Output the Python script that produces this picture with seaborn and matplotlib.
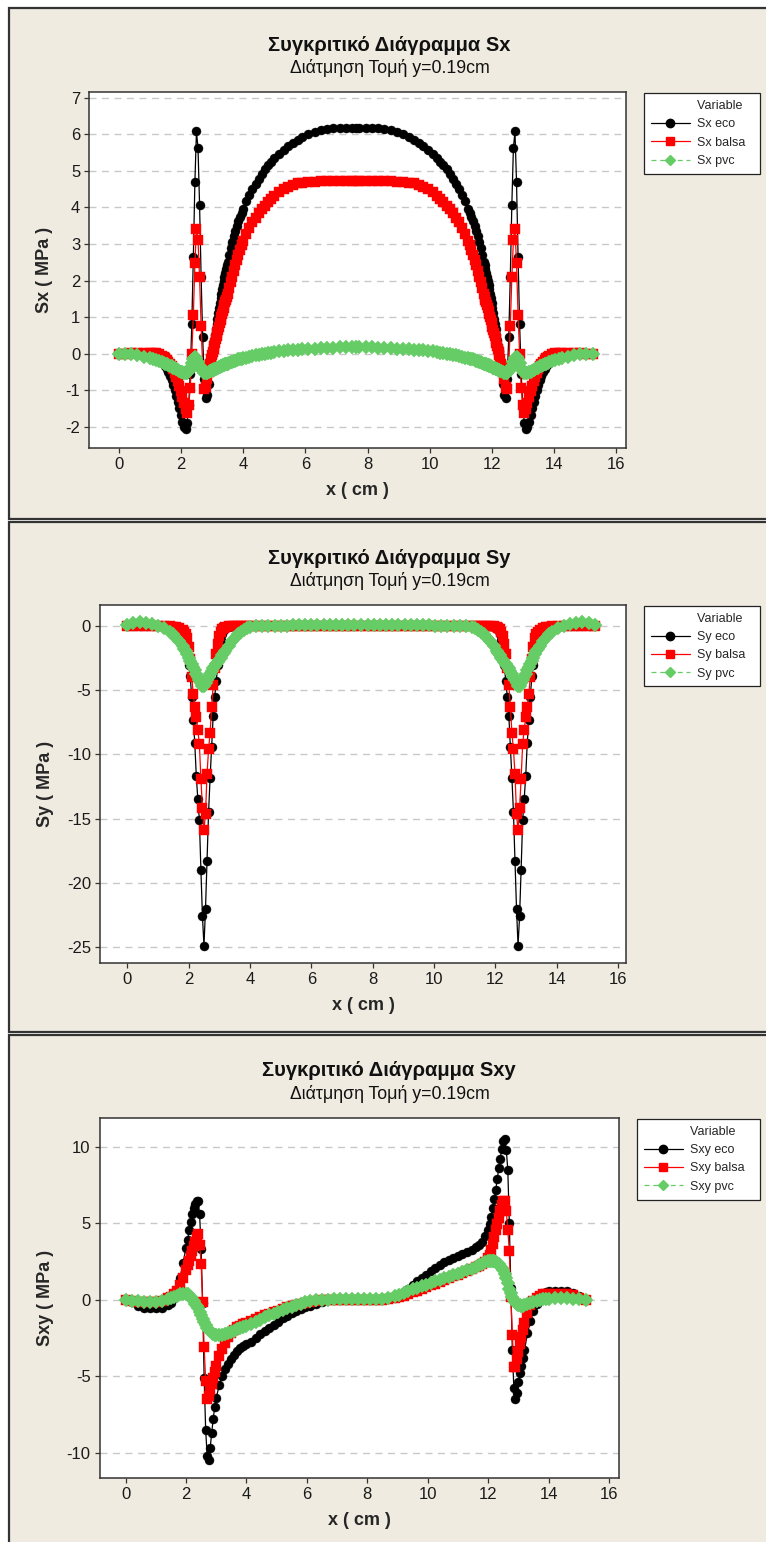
import matplotlib
matplotlib.use("Agg")
import matplotlib.pyplot as plt
from matplotlib.lines import Line2D
from matplotlib.patches import Rectangle
import seaborn as sns

sns.set_theme(style="white")
plt.rcParams["font.family"] = ["Liberation Sans", "DejaVu Sans"]
plt.rcParams["axes.unicode_minus"] = False

# ---------------- Sx along the section y = 0.19 cm ----------------
sx_x = [
    0.0, 0.2, 0.4, 0.6, 0.8, 1.0, 1.1, 1.2, 1.3, 1.4,
    1.45, 1.5, 1.55, 1.6, 1.65, 1.7, 1.75, 1.8, 1.85, 1.9,
    1.95, 2.0, 2.05, 2.1, 2.15, 2.2, 2.25, 2.3, 2.35, 2.4,
    2.45, 2.5, 2.55, 2.6, 2.65, 2.7, 2.75, 2.8, 2.85, 2.9,
    2.95, 2.975, 3.0, 3.025, 3.05, 3.075, 3.1, 3.125, 3.15, 3.175,
    3.2, 3.225, 3.25, 3.275, 3.3, 3.325, 3.35, 3.375, 3.4, 3.425,
    3.45, 3.475, 3.5, 3.55, 3.6, 3.65, 3.7, 3.75, 3.8, 3.85,
    3.9, 3.95, 4.0, 4.1, 4.2, 4.3, 4.4, 4.5, 4.6, 4.7,
    4.8, 4.9, 5.0, 5.15, 5.3, 5.45, 5.6, 5.75, 5.9, 6.1,
    6.3, 6.5, 6.7, 6.9, 7.1, 7.3, 7.5,
    7.62,
    7.74, 7.94, 8.14, 8.34, 8.54, 8.74, 8.94,
    9.14, 9.34, 9.49, 9.64, 9.79, 9.94, 10.09, 10.24, 10.34, 10.44,
    10.54, 10.64, 10.74, 10.84, 10.94, 11.04, 11.14, 11.24, 11.29, 11.34,
    11.39, 11.44, 11.49, 11.54, 11.59, 11.64, 11.69, 11.74, 11.765, 11.79,
    11.815, 11.84, 11.865, 11.89, 11.915, 11.94, 11.965, 11.99, 12.015, 12.04,
    12.065, 12.09, 12.115, 12.14, 12.165, 12.19, 12.215, 12.24, 12.265, 12.29,
    12.34, 12.39, 12.44, 12.49, 12.54, 12.59, 12.64, 12.69, 12.74, 12.79,
    12.84, 12.89, 12.94, 12.99, 13.04, 13.09, 13.14, 13.19, 13.24, 13.29,
    13.34, 13.39, 13.44, 13.49, 13.54, 13.59, 13.64, 13.69, 13.74, 13.79,
    13.84, 13.94, 14.04, 14.14, 14.24, 14.44, 14.64, 14.84, 15.04, 15.24,
]
sx_eco = [
    0.00, 0.00, 0.00, 0.00, -0.01, -0.03, -0.05, -0.09, -0.14, -0.22,
    -0.28, -0.34, -0.42, -0.50, -0.60, -0.72, -0.85, -1.00, -1.16, -1.33,
    -1.50, -1.68, -1.86, -2.00, -2.06, -1.90, -1.40, -0.55, 0.80, 2.65,
    4.70, 6.08, 5.62, 4.08, 2.10, 0.45, -0.70, -1.22, -1.12, -0.82,
    -0.45, -0.26, -0.08, 0.07, 0.22, 0.37, 0.52, 0.67, 0.82, 0.96,
    1.10, 1.24, 1.38, 1.51, 1.64, 1.76, 1.88, 1.99, 2.10, 2.21,
    2.32, 2.42, 2.52, 2.71, 2.90, 3.06, 3.22, 3.36, 3.50, 3.63,
    3.75, 3.86, 3.97, 4.17, 4.35, 4.51, 4.65, 4.79, 4.92, 5.04,
    5.15, 5.25, 5.34, 5.47, 5.58, 5.68, 5.77, 5.85, 5.92, 6.00,
    6.07, 6.12, 6.15, 6.16, 6.17, 6.17, 6.17,
    6.17,
    6.17, 6.17, 6.17, 6.16, 6.15, 6.12, 6.07,
    6.00, 5.92, 5.85, 5.77, 5.68, 5.58, 5.47, 5.34, 5.25, 5.15,
    5.04, 4.92, 4.79, 4.65, 4.51, 4.35, 4.17, 3.97, 3.86, 3.75,
    3.63, 3.50, 3.36, 3.22, 3.06, 2.90, 2.71, 2.52, 2.42, 2.32,
    2.21, 2.10, 1.99, 1.88, 1.76, 1.64, 1.51, 1.38, 1.24, 1.10,
    0.96, 0.82, 0.67, 0.52, 0.37, 0.22, 0.07, -0.08, -0.26, -0.45,
    -0.82, -1.12, -1.22, -0.70, 0.45, 2.10, 4.08, 5.62, 6.08, 4.70,
    2.65, 0.80, -0.55, -1.40, -1.90, -2.06, -2.00, -1.86, -1.68, -1.50,
    -1.33, -1.16, -1.00, -0.85, -0.72, -0.60, -0.50, -0.42, -0.34, -0.28,
    -0.22, -0.14, -0.09, -0.05, -0.03, -0.01, 0.00, 0.00, 0.00, 0.00,
]
sx_balsa = [
    0.00, 0.00, 0.01, 0.02, 0.03, 0.03, 0.02, 0.01, -0.02, -0.06,
    -0.09, -0.12, -0.17, -0.22, -0.28, -0.35, -0.43, -0.52, -0.63, -0.75,
    -0.88, -1.02, -1.18, -1.36, -1.52, -1.62, -1.40, -0.95, 0.00, 1.05,
    2.48, 3.42, 3.10, 2.10, 0.75, -0.35, -0.98, -0.90, -0.70, -0.50,
    -0.28, -0.16, -0.05, 0.04, 0.12, 0.21, 0.30, 0.39, 0.48, 0.57,
    0.65, 0.74, 0.83, 0.92, 1.00, 1.08, 1.16, 1.24, 1.32, 1.40,
    1.47, 1.55, 1.62, 1.79, 1.95, 2.11, 2.27, 2.42, 2.57, 2.71,
    2.84, 2.96, 3.07, 3.27, 3.44, 3.59, 3.72, 3.84, 3.95, 4.05,
    4.14, 4.23, 4.31, 4.41, 4.50, 4.57, 4.62, 4.66, 4.68, 4.70,
    4.70, 4.71, 4.71, 4.71, 4.71, 4.71, 4.71,
    4.71,
    4.71, 4.71, 4.71, 4.71, 4.71, 4.71, 4.70,
    4.70, 4.68, 4.66, 4.62, 4.57, 4.50, 4.41, 4.31, 4.23, 4.14,
    4.05, 3.95, 3.84, 3.72, 3.59, 3.44, 3.27, 3.07, 2.96, 2.84,
    2.71, 2.57, 2.42, 2.27, 2.11, 1.95, 1.79, 1.62, 1.55, 1.47,
    1.40, 1.32, 1.24, 1.16, 1.08, 1.00, 0.92, 0.83, 0.74, 0.65,
    0.57, 0.48, 0.39, 0.30, 0.21, 0.12, 0.04, -0.05, -0.16, -0.28,
    -0.50, -0.70, -0.90, -0.98, -0.35, 0.75, 2.10, 3.10, 3.42, 2.48,
    1.05, 0.00, -0.95, -1.40, -1.62, -1.52, -1.36, -1.18, -1.02, -0.88,
    -0.75, -0.63, -0.52, -0.43, -0.35, -0.28, -0.22, -0.17, -0.12, -0.09,
    -0.06, -0.02, 0.01, 0.02, 0.03, 0.03, 0.02, 0.01, 0.00, 0.00,
]
sx_pvc = [
    0.00, 0.00, -0.02, -0.05, -0.08, -0.12, -0.14, -0.17, -0.20, -0.23,
    -0.25, -0.27, -0.29, -0.31, -0.33, -0.35, -0.38, -0.40, -0.43, -0.45,
    -0.47, -0.49, -0.51, -0.53, -0.54, -0.53, -0.48, -0.38, -0.26, -0.15,
    -0.09, -0.12, -0.22, -0.33, -0.42, -0.48, -0.52, -0.53, -0.52, -0.50,
    -0.48, -0.47, -0.46, -0.45, -0.44, -0.43, -0.42, -0.41, -0.40, -0.39,
    -0.38, -0.37, -0.36, -0.35, -0.34, -0.33, -0.32, -0.31, -0.30, -0.29,
    -0.28, -0.28, -0.27, -0.25, -0.24, -0.22, -0.21, -0.19, -0.18, -0.16,
    -0.15, -0.14, -0.13, -0.11, -0.09, -0.07, -0.05, -0.03, -0.01, 0.00,
    0.02, 0.03, 0.05, 0.07, 0.08, 0.09, 0.10, 0.11, 0.12, 0.13,
    0.14, 0.15, 0.16, 0.16, 0.17, 0.17, 0.17,
    0.17,
    0.17, 0.17, 0.17, 0.16, 0.16, 0.15, 0.14,
    0.13, 0.12, 0.11, 0.10, 0.09, 0.08, 0.07, 0.05, 0.03, 0.02,
    0.00, -0.01, -0.03, -0.05, -0.07, -0.09, -0.11, -0.13, -0.14, -0.15,
    -0.16, -0.18, -0.19, -0.21, -0.22, -0.24, -0.25, -0.27, -0.28, -0.28,
    -0.29, -0.30, -0.31, -0.32, -0.33, -0.34, -0.35, -0.36, -0.37, -0.38,
    -0.39, -0.40, -0.41, -0.42, -0.43, -0.44, -0.45, -0.46, -0.47, -0.48,
    -0.50, -0.52, -0.53, -0.52, -0.48, -0.42, -0.33, -0.22, -0.12, -0.09,
    -0.15, -0.26, -0.38, -0.48, -0.53, -0.54, -0.53, -0.51, -0.49, -0.47,
    -0.45, -0.43, -0.40, -0.38, -0.35, -0.33, -0.31, -0.29, -0.27, -0.25,
    -0.23, -0.20, -0.17, -0.14, -0.12, -0.08, -0.05, -0.02, 0.00, 0.00,
]

# ---------------- Sy along the section y = 0.19 cm ----------------
sy_x = [
    0.0, 0.2, 0.4, 0.6, 0.8, 1.0, 1.2, 1.4, 1.5, 1.6,
    1.7, 1.8, 1.85, 1.9, 1.95, 2.0, 2.05, 2.1, 2.15, 2.2,
    2.25, 2.3, 2.35, 2.4, 2.45, 2.5, 2.55, 2.6, 2.65, 2.7,
    2.75, 2.8, 2.85, 2.9, 2.95, 3.0, 3.05, 3.1, 3.15, 3.2,
    3.3, 3.4, 3.5, 3.6, 3.7, 3.8, 3.9, 4.0, 4.2, 4.4,
    4.6, 4.8, 5.0, 5.2, 5.4, 5.6, 5.8, 6.0, 6.2, 6.4,
    6.6, 6.8, 7.0, 7.2, 7.4,
    7.62,
    7.84, 8.04, 8.24, 8.44, 8.64,
    8.84, 9.04, 9.24, 9.44, 9.64, 9.84, 10.04, 10.24, 10.44, 10.64,
    10.84, 11.04, 11.24, 11.34, 11.44, 11.54, 11.64, 11.74, 11.84, 11.94,
    12.04, 12.09, 12.14, 12.19, 12.24, 12.29, 12.34, 12.39, 12.44, 12.49,
    12.54, 12.59, 12.64, 12.69, 12.74, 12.79, 12.84, 12.89, 12.94, 12.99,
    13.04, 13.09, 13.14, 13.19, 13.24, 13.29, 13.34, 13.39, 13.44, 13.54,
    13.64, 13.74, 13.84, 14.04, 14.24, 14.44, 14.64, 14.84, 15.04, 15.24,
]
sy_eco = [
    0.00, 0.00, 0.00, 0.00, 0.00, 0.00, 0.00, -0.01, -0.02, -0.05,
    -0.15, -0.35, -0.60, -1.00, -1.80, -3.00, -3.90, -5.50, -7.30, -9.10,
    -11.70, -13.50, -15.10, -19.00, -22.60, -24.90, -22.00, -18.30, -14.50, -11.80,
    -9.40, -7.00, -5.50, -4.30, -3.00, -1.90, -1.10, -0.60, -0.30, -0.15,
    -0.05, -0.02, 0.00, 0.00, 0.00, 0.00, 0.00, 0.00, 0.00, 0.00,
    0.00, 0.00, 0.00, 0.00, 0.00, 0.00, 0.00, 0.00, 0.00, 0.00,
    0.00, 0.00, 0.00, 0.00, 0.00,
    0.00,
    0.00, 0.00, 0.00, 0.00, 0.00,
    0.00, 0.00, 0.00, 0.00, 0.00, 0.00, 0.00, 0.00, 0.00, 0.00,
    0.00, 0.00, 0.00, 0.00, 0.00, 0.00, 0.00, 0.00, -0.02, -0.05,
    -0.15, -0.30, -0.60, -1.10, -1.90, -3.00, -4.30, -5.50, -7.00, -9.40,
    -11.80, -14.50, -18.30, -22.00, -24.90, -22.60, -19.00, -15.10, -13.50, -11.70,
    -9.10, -7.30, -5.50, -3.90, -3.00, -1.80, -1.00, -0.60, -0.35, -0.15,
    -0.05, -0.02, -0.01, 0.00, 0.00, 0.00, 0.00, 0.00, 0.00, 0.00,
]
sy_balsa = [
    0.00, 0.00, 0.00, 0.00, 0.00, 0.00, 0.00, -0.02, -0.04, -0.08,
    -0.15, -0.30, -0.45, -0.65, -0.90, -1.60, -2.60, -4.00, -5.30, -6.30,
    -7.10, -8.10, -9.20, -11.90, -14.20, -15.90, -14.60, -11.50, -9.60, -8.30,
    -6.30, -4.60, -3.30, -2.20, -1.40, -0.80, -0.45, -0.25, -0.12, -0.06,
    -0.02, 0.00, 0.00, 0.00, 0.00, 0.00, 0.00, 0.00, 0.00, 0.00,
    0.00, 0.00, 0.00, 0.00, 0.00, 0.00, 0.00, 0.00, 0.00, 0.00,
    0.00, 0.00, 0.00, 0.00, 0.00,
    0.00,
    0.00, 0.00, 0.00, 0.00, 0.00,
    0.00, 0.00, 0.00, 0.00, 0.00, 0.00, 0.00, 0.00, 0.00, 0.00,
    0.00, 0.00, 0.00, 0.00, 0.00, 0.00, 0.00, 0.00, 0.00, -0.02,
    -0.06, -0.12, -0.25, -0.45, -0.80, -1.40, -2.20, -3.30, -4.60, -6.30,
    -8.30, -9.60, -11.50, -14.60, -15.90, -14.20, -11.90, -9.20, -8.10, -7.10,
    -6.30, -5.30, -4.00, -2.60, -1.60, -0.90, -0.65, -0.45, -0.30, -0.15,
    -0.08, -0.04, -0.02, 0.00, 0.00, 0.00, 0.00, 0.00, 0.00, 0.00,
]
sy_pvc = [
    0.05, 0.20, 0.28, 0.25, 0.15, 0.02, -0.15, -0.45, -0.65, -0.90,
    -1.20, -1.55, -1.75, -1.95, -2.20, -2.45, -2.70, -2.95, -3.20, -3.45,
    -3.70, -3.95, -4.20, -4.45, -4.70, -4.65, -4.45, -4.20, -3.95, -3.70,
    -3.50, -3.30, -3.10, -2.95, -2.80, -2.62, -2.45, -2.28, -2.10, -1.92,
    -1.55, -1.20, -0.90, -0.65, -0.45, -0.28, -0.15, -0.06, 0.00, 0.02,
    0.03, 0.03, 0.04, 0.04, 0.05, 0.05, 0.05, 0.05, 0.05, 0.05,
    0.05, 0.05, 0.05, 0.05, 0.05,
    0.05,
    0.05, 0.05, 0.05, 0.05, 0.05,
    0.05, 0.05, 0.05, 0.05, 0.05, 0.05, 0.04, 0.04, 0.03, 0.03,
    0.02, 0.00, -0.06, -0.15, -0.28, -0.45, -0.65, -0.90, -1.20, -1.55,
    -1.92, -2.10, -2.28, -2.45, -2.62, -2.80, -2.95, -3.10, -3.30, -3.50,
    -3.70, -3.95, -4.20, -4.45, -4.65, -4.70, -4.45, -4.20, -3.95, -3.70,
    -3.45, -3.20, -2.95, -2.70, -2.45, -2.20, -1.95, -1.75, -1.55, -1.20,
    -0.90, -0.65, -0.45, -0.15, 0.02, 0.15, 0.25, 0.28, 0.20, 0.05,
]

# ---------------- Sxy along the section y = 0.19 cm ----------------
sxy_x = [
    0.0, 0.2, 0.4, 0.6, 0.8, 1.0, 1.2, 1.4, 1.5, 1.6,
    1.7, 1.8, 1.9, 2.0, 2.05, 2.1, 2.15, 2.2, 2.25, 2.3,
    2.35, 2.4, 2.45, 2.5, 2.55, 2.6, 2.65, 2.7, 2.75, 2.8,
    2.85, 2.9, 2.95, 3.0, 3.1, 3.2, 3.3, 3.4, 3.5, 3.6,
    3.7, 3.8, 3.9, 4.0, 4.15, 4.3, 4.45, 4.6, 4.75, 4.9,
    5.05, 5.2, 5.35, 5.5, 5.65, 5.8, 5.95, 6.1, 6.3, 6.5,
    6.7, 6.9, 7.1, 7.3, 7.5, 7.7, 7.9, 8.1, 8.3, 8.5,
    8.7, 8.9, 9.05, 9.2, 9.35, 9.5, 9.65, 9.8, 9.95, 10.1,
    10.25, 10.4, 10.55, 10.7, 10.85, 11.0, 11.15, 11.3, 11.45, 11.6,
    11.7, 11.8, 11.9, 12.0, 12.05, 12.1, 12.15, 12.2, 12.25, 12.3,
    12.35, 12.4, 12.45, 12.5, 12.55, 12.6, 12.65, 12.7, 12.75, 12.8,
    12.85, 12.9, 12.95, 13.0, 13.05, 13.1, 13.15, 13.2, 13.3, 13.4,
    13.5, 13.6, 13.7, 13.8, 13.9, 14.0, 14.2, 14.4, 14.6, 14.8,
    15.0, 15.24,
]
sxy_eco = [
    0.00, -0.15, -0.40, -0.55, -0.55, -0.55, -0.52, -0.35, -0.20, 0.10,
    0.50, 1.40, 2.40, 3.40, 3.90, 4.55, 5.10, 5.60, 6.00, 6.30,
    6.45, 6.50, 5.60, 3.30, -0.20, -5.10, -8.50, -10.20, -10.50, -9.70,
    -8.70, -7.80, -7.00, -6.40, -5.60, -5.00, -4.55, -4.20, -3.90, -3.60,
    -3.35, -3.15, -3.00, -2.90, -2.75, -2.50, -2.25, -2.05, -1.85, -1.62,
    -1.42, -1.22, -1.05, -0.88, -0.72, -0.60, -0.50, -0.40, -0.25, -0.12,
    -0.04, 0.00, 0.00, 0.00, 0.00, 0.00, 0.00, 0.00, 0.00, 0.02,
    0.06, 0.15, 0.30, 0.50, 0.72, 0.97, 1.20, 1.42, 1.65, 1.87,
    2.07, 2.27, 2.45, 2.60, 2.75, 2.88, 3.00, 3.12, 3.25, 3.45,
    3.60, 3.80, 4.15, 4.60, 4.95, 5.40, 6.00, 6.60, 7.20, 7.90,
    8.60, 9.20, 9.90, 10.40, 10.50, 9.80, 8.50, 5.00, 0.80, -3.30,
    -5.80, -6.50, -6.10, -5.40, -4.80, -4.30, -3.80, -3.30, -2.20, -1.40,
    -0.75, -0.25, 0.10, 0.35, 0.50, 0.57, 0.60, 0.60, 0.58, 0.45,
    0.25, 0.00,
]
sxy_balsa = [
    0.00, -0.05, -0.12, -0.15, -0.15, -0.12, -0.05, 0.10, 0.20, 0.35,
    0.55, 0.95, 1.45, 1.95, 2.25, 2.55, 2.90, 3.20, 3.50, 3.80,
    4.10, 4.30, 3.60, 2.35, -0.15, -3.10, -5.30, -6.50, -6.30, -5.90,
    -5.50, -5.10, -4.70, -4.30, -3.70, -3.20, -2.80, -2.45, -2.15, -1.95,
    -1.80, -1.70, -1.60, -1.52, -1.40, -1.28, -1.15, -1.02, -0.90, -0.80,
    -0.70, -0.60, -0.50, -0.42, -0.35, -0.27, -0.20, -0.13, -0.06, -0.02,
    0.00, 0.00, 0.00, 0.00, 0.00, 0.00, 0.00, 0.00, 0.00, 0.02,
    0.05, 0.10, 0.18, 0.28, 0.38, 0.48, 0.58, 0.70, 0.82, 0.94,
    1.06, 1.18, 1.30, 1.42, 1.53, 1.64, 1.75, 1.87, 1.99, 2.12,
    2.22, 2.33, 2.50, 2.75, 2.95, 3.25, 3.65, 4.10, 4.55, 4.95,
    5.35, 5.80, 6.20, 6.50, 6.50, 5.80, 4.60, 3.20, 0.20, -2.30,
    -4.40, -4.40, -3.90, -3.40, -2.90, -2.40, -1.95, -1.50, -0.85, -0.35,
    -0.05, 0.15, 0.28, 0.35, 0.38, 0.40, 0.40, 0.40, 0.38, 0.30,
    0.15, 0.00,
]
sxy_pvc = [
    0.00, -0.05, -0.10, -0.13, -0.14, -0.12, -0.05, 0.05, 0.12, 0.20,
    0.28, 0.35, 0.40, 0.40, 0.35, 0.28, 0.18, 0.05, -0.10, -0.25,
    -0.40, -0.55, -0.78, -1.02, -1.25, -1.48, -1.66, -1.82, -1.95, -2.06,
    -2.15, -2.22, -2.27, -2.30, -2.33, -2.32, -2.26, -2.18, -2.10, -2.02,
    -1.94, -1.86, -1.78, -1.70, -1.57, -1.43, -1.29, -1.15, -1.02, -0.90,
    -0.77, -0.66, -0.55, -0.45, -0.35, -0.25, -0.15, -0.06, 0.00, 0.02,
    0.02, 0.03, 0.03, 0.03, 0.03, 0.03, 0.03, 0.03, 0.04, 0.06,
    0.12, 0.22, 0.32, 0.45, 0.57, 0.68, 0.79, 0.90, 1.00, 1.10,
    1.20, 1.32, 1.42, 1.52, 1.62, 1.72, 1.82, 1.93, 2.03, 2.15,
    2.25, 2.36, 2.45, 2.52, 2.56, 2.57, 2.55, 2.52, 2.48, 2.42,
    2.32, 2.20, 2.10, 1.95, 1.72, 1.42, 1.08, 0.72, 0.42, 0.18,
    0.00, -0.14, -0.25, -0.32, -0.36, -0.38, -0.38, -0.36, -0.28, -0.20,
    -0.12, -0.05, 0.00, 0.04, 0.07, 0.08, 0.10, 0.10, 0.10, 0.08,
    0.05, 0.00,
]

materials = ["eco", "balsa", "pvc"]
x_ticks = [0, 2, 4, 6, 8, 10, 12, 14, 16]

# ---------------- styling ----------------
W, H = 766, 1542
BEIGE = "#EFEBE1"
GREEN = "#66CC66"
STYLE = {
    "eco":   dict(color="black", marker="o", ms=6.5, ls="-", lms=6.0),
    "balsa": dict(color="#FF0000", marker="s", ms=6.5, ls="-", lms=6.2),
    "pvc":   dict(color=GREEN, marker="D", ms=7.2, ls=(0, (4, 3)), lms=5.6),
}

fig = plt.figure(figsize=(W / 100, H / 100), dpi=100, facecolor="white")

# window frames behind each chart
for top, height in [(8, 511), (522, 510), (1035, 520)]:
    fig.add_artist(Rectangle((9 / W, 1 - (top + height) / H), 1.0, height / H,
                             transform=fig.transFigure, facecolor=BEIGE,
                             edgecolor="#333333", linewidth=1.6, zorder=-10))

panels = [
    dict(name="Sx", x=sx_x, ys=[sx_eco, sx_balsa, sx_pvc],
         box=(89.3, 92.3, 626, 448.3), xlim=(-0.945, 16.31), ylim=(-2.59, 7.15),
         yticks=[-2, -1, 0, 1, 2, 3, 4, 5, 6, 7], legend_left=644, pad_spaces=3),
    dict(name="Sy", x=sy_x, ys=[sy_eco, sy_balsa, sy_pvc],
         box=(100, 605, 626, 962.7), xlim=(-0.89, 16.26), ylim=(-26.22, 1.64),
         yticks=[-25, -20, -15, -10, -5, 0], legend_left=644, pad_spaces=3),
    dict(name="Sxy", x=sxy_x, ys=[sxy_eco, sxy_balsa, sxy_pvc],
         box=(99.6, 1118, 619, 1478), xlim=(-0.86, 16.33), ylim=(-11.66, 11.9),
         yticks=[-10, -5, 0, 5, 10], legend_left=637, pad_spaces=5),
]

for p in panels:
    left, top, right, bottom = p["box"]
    wpx, hpx = right - left, bottom - top
    ax = fig.add_axes([left / W, 1 - bottom / H, wpx / W, hpx / H])
    ax.set_facecolor("white")

    for mat, ys in zip(materials, p["ys"]):
        st = STYLE[mat]
        sns.lineplot(x=p["x"], y=ys, ax=ax, estimator=None, sort=False,
                     color=st["color"], marker=st["marker"], markersize=st["ms"],
                     markeredgecolor=st["color"], markeredgewidth=0.3,
                     linewidth=0.9, linestyle=st["ls"], legend=False)

    ax.set_xlim(*p["xlim"])
    ax.set_ylim(*p["ylim"])
    ax.set_xticks(x_ticks)
    ax.set_yticks(p["yticks"])
    ax.yaxis.grid(True, color="#C8C8C8", linestyle=(0, (5, 4)), linewidth=1.0)
    ax.xaxis.grid(False)
    ax.set_axisbelow(True)
    for sp in ax.spines.values():
        sp.set_color("#333333")
        sp.set_linewidth(1.1)
    ax.tick_params(axis="both", direction="out", length=3.5, width=0.9,
                   color="#333333", labelsize=12, labelcolor="#1a1a1a", pad=3,
                   left=True, bottom=True, top=False, right=False)

    ax.set_xlabel("x ( cm )", fontsize=13, fontweight="bold", va="center")
    ax.xaxis.set_label_coords(0.5, -42.5 / hpx)
    ax.set_ylabel(f"{p['name']} ( MPa )", fontsize=13, fontweight="bold", va="center")
    ax.yaxis.set_label_coords((45 - left) / wpx, 0.5)

    fig.text(389 / W, 1 - (top - 47) / H, f"Συγκριτικό Διάγραμμα {p['name']}",
             ha="center", va="center", fontsize=14.5, fontweight="bold", color="#111111")
    fig.text(390 / W, 1 - (top - 24) / H, "Διάτμηση Τομή y=0.19cm",
             ha="center", va="center", fontsize=12.8, color="#111111")

    handles = [Line2D([], [], linestyle="none")]
    for mat in materials:
        st = STYLE[mat]
        handles.append(Line2D([], [], color=st["color"], marker=st["marker"],
                              markersize=st["lms"], linewidth=0.9,
                              linestyle=st["ls"], markeredgecolor=st["color"]))
    # trailing spaces give the label column a wider right margin inside the box
    labels = ["Variable" + " " * p["pad_spaces"]] + [f"{p['name']} {m}" for m in materials]
    leg = ax.legend(handles, labels, loc="upper left",
                    bbox_to_anchor=(p["legend_left"] / W, 1 - (top + 1) / H),
                    bbox_transform=fig.transFigure, fontsize=9, frameon=True,
                    fancybox=False, edgecolor="#222222", facecolor="white",
                    framealpha=1, borderpad=0.55, handlelength=3.1,
                    handletextpad=0.6, labelspacing=0.5, borderaxespad=0)
    leg.get_frame().set_linewidth(0.9)

fig.savefig("out.png", dpi=100, facecolor="white")
